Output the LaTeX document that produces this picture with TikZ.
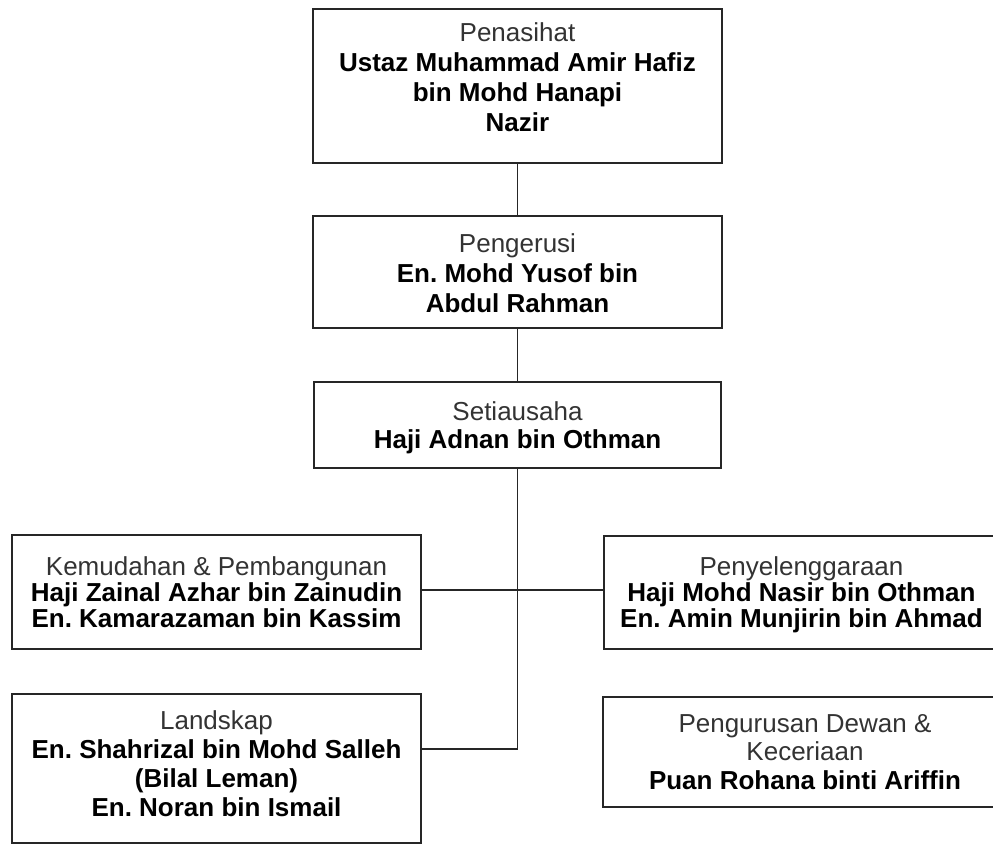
\documentclass[tikz,border=0pt]{standalone}
\usepackage{fontspec}
\setmainfont{Liberation Sans}[Ligatures=NoCommon]
\frenchspacing
\begin{document}
\begin{tikzpicture}[x=1pt,y=-1pt,
  box/.style={draw=black!85,line width=1.6pt,rectangle,inner sep=0pt,outer sep=0pt},
  txt/.style={inner sep=0pt,outer sep=0pt,align=center,text=black},
  conn/.style={draw=black!85,line width=1.6pt}]
\clip (0,0) rectangle (993,844);
\fill[white] (0,0) rectangle (993,844);
% boxes
\node[box,minimum width=409pt,minimum height=154pt] (pen) at (517.5,86) {};
\node[box,minimum width=409pt,minimum height=112pt] (peng) at (517.5,272) {};
\node[box,minimum width=407pt,minimum height=86pt] (set) at (517.5,425) {};
\node[box,minimum width=409pt,minimum height=114pt] (kem) at (216.5,592) {};
\node[box,minimum width=396pt,minimum height=113pt] (pny) at (802,592.5) {};
\node[box,minimum width=409pt,minimum height=149pt] (lan) at (216.5,768.5) {};
\node[box,minimum width=397pt,minimum height=110pt] (pgr) at (801.5,752) {};
% texts
\node[txt,font=\fontsize{26}{30}\selectfont] (penT) at (517.5,77.7)
  {{\color{black!80}Penasihat}\\\textbf{Ustaz Muhammad Amir Hafiz}\\\textbf{bin Mohd Hanapi}\\\textbf{Nazir}};
\node[txt,font=\fontsize{26}{30}\selectfont] (pengT) at (517.5,273)
  {{\color{black!80}Pengerusi}\\\textbf{En. Mohd Yusof bin}\\\textbf{Abdul Rahman}};
\node[txt,font=\fontsize{26}{28}\selectfont] (setT) at (517.5,427.4)
  {{\color{black!80}Setiausaha}\\\textbf{Haji Adnan bin Othman}};
\node[txt,font=\fontsize{26}{26}\selectfont] (kemT) at (216.5,591.7)
  {{\color{black!80}Kemudahan \& Pembangunan}\\\textbf{Haji Zainal Azhar bin Zainudin}\\\textbf{En. Kamarazaman bin Kassim}};
\node[txt,font=\fontsize{26}{26}\selectfont] (pnyT) at (801.5,594.4)
  {{\color{black!80}Penyelenggaraan}\\\textbf{Haji Mohd Nasir bin Othman}\\\textbf{En. Amin Munjirin bin Ahmad}};
\node[txt,font=\fontsize{26}{29}\selectfont] (lanT) at (216.5,764)
  {{\color{black!80}Landskap}\\\textbf{En. Shahrizal bin Mohd Salleh}\\\textbf{(Bilal Leman)}\\\textbf{En. Noran bin Ismail}};
\node[txt,font=\fontsize{26}{28.5}\selectfont] (pgrT) at (805,752)
  {{\color{black!80}Pengurusan Dewan \&}\\{\color{black!80}Keceriaan}\\\textbf{Puan Rohana binti Ariffin}};
% connectors
\coordinate (j2) at (517.5,749);
\coordinate (j1) at (421,590);
\draw[conn] (pen.south) -- (peng.north);
\draw[conn] (peng.south) -- (set.north);
\draw[conn] (set.south) -- (j2) -- (j2 -| lan.east);
\draw[conn] (j1 -| kem.east) -- (j1 -| pny.west);
\end{tikzpicture}
\end{document}
